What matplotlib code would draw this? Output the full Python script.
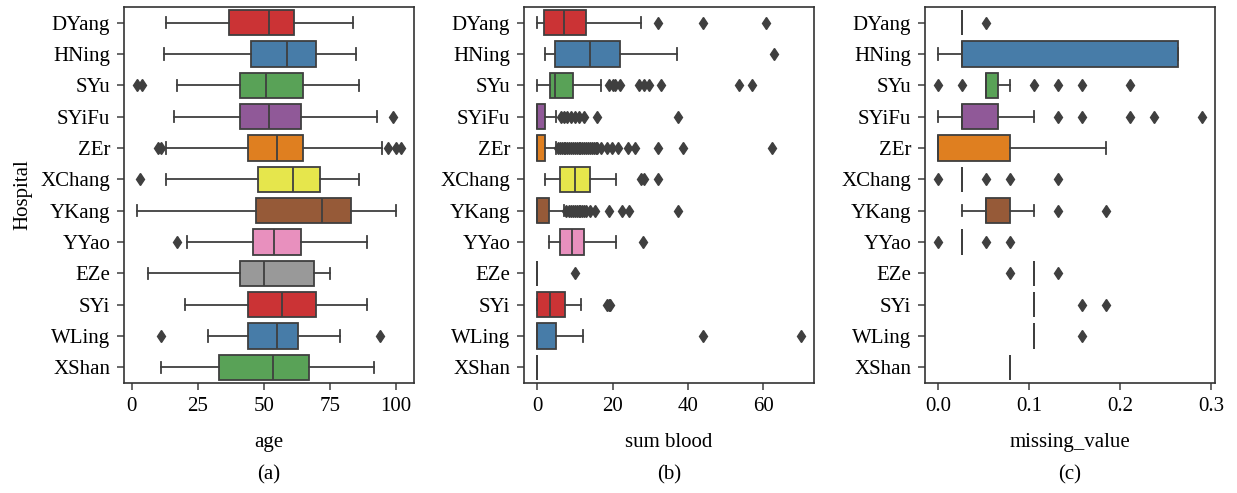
import colorsys
import matplotlib.pyplot as plt
import matplotlib.colors as mcolors

# hospitals, top to bottom
hospitals = ['DYang', 'HNing', 'SYu', 'SYiFu', 'ZEr', 'XChang',
             'YKang', 'YYao', 'EZe', 'SYi', 'WLing', 'XShan']

# (a) age
age_whislo = [13, 12, 17, 16, 13, 13, 2, 21, 6, 20, 29, 11]
age_q1 = [37, 45, 41, 41, 44, 48, 47, 46, 41, 44, 44, 33]
age_med = [52, 59, 51, 52, 55, 61, 72, 54, 50, 57, 55, 53.5]
age_q3 = [61.5, 70, 65, 64, 65, 71.5, 83, 64, 69, 70, 63, 67]
age_whishi = [84, 85, 86, 93, 95, 86, 100, 89, 75, 89, 79, 92]
age_fliers = [[], [], [2, 4], [99], [10, 11, 97, 100, 102], [3],
              [], [17], [], [], [11, 94], []]

# (b) sum blood
blood_whislo = [0, 2, 0, 0, 0, 2, 0, 3.2, 0, 0, 0, 0]
blood_q1 = [1.9, 4.6, 3.4, 0, 0, 6, 0, 6, 0, 0, 0, 0]
blood_med = [7, 14, 4.6, 0, 0, 10, 0, 9.2, 0, 3.4, 0, 0]
blood_q3 = [13, 22, 9.6, 2.1, 2.1, 14, 3.1, 12.5, 0, 7.3, 5.1, 0]
blood_whishi = [27.6, 37, 17, 5.1, 5, 21, 7.2, 21, 0, 11.6, 12.1, 0]
blood_fliers = [
    [32, 44, 60.8],
    [63],
    [19, 20, 20.7, 22, 27, 28.4, 29.8, 33, 53.5, 57],
    [6.3, 7, 8, 9, 10, 11, 12.3, 16, 37.5],
    [5.5, 6, 6.5, 7, 7.5, 8, 8.5, 9, 9.5, 10, 10.5, 11, 11.5, 12,
     12.5, 13, 13.5, 14, 14.5, 15, 15.5, 16, 17, 18.5, 19.8, 21.5,
     24, 26, 32, 38.7, 62.4],
    [27.5, 28.4, 32],
    [7.7, 8.5, 9, 9.5, 10, 10.5, 11, 11.5, 12, 12.5, 13, 14, 15.4,
     19.2, 22.5, 24.5, 37.5],
    [28],
    [10],
    [18.6, 19, 19.4],
    [44, 70],
    [],
]

# (c) missing_value
miss_whislo = [0.0263, 0.0, 0.0789, 0.0, 0.0, 0.0263, 0.0263, 0.0263,
               0.1053, 0.1053, 0.1053, 0.0789]
miss_q1 = [0.0263, 0.0263, 0.0526, 0.0263, 0.0, 0.0263, 0.0526, 0.0263,
           0.1053, 0.1053, 0.1053, 0.0789]
miss_med = [0.0263, 0.0263, 0.0526, 0.0263, 0.0, 0.0263, 0.0526, 0.0263,
            0.1053, 0.1053, 0.1053, 0.0789]
miss_q3 = [0.0263, 0.2632, 0.0658, 0.0658, 0.0789, 0.0263, 0.0789, 0.0263,
           0.1053, 0.1053, 0.1053, 0.0789]
miss_whishi = [0.0263, 0.2632, 0.0789, 0.1053, 0.1842, 0.0263, 0.1053,
               0.0263, 0.1053, 0.1053, 0.1053, 0.0789]
miss_fliers = [
    [0.0526],
    [],
    [0.0, 0.0263, 0.1053, 0.1316, 0.1579, 0.2105],
    [0.1316, 0.1579, 0.2105, 0.2368, 0.2895],
    [],
    [0.0, 0.0526, 0.0789, 0.1316],
    [0.1316, 0.1842],
    [0.0, 0.0526, 0.0789],
    [0.0789, 0.1316],
    [0.1579, 0.1842],
    [0.1579],
    [],
]
# the SYu box in (c) has no lower whisker
miss_whislo[2] = 0.0526

set1 = ['#e41a1c', '#377eb8', '#4daf4a', '#984ea3', '#ff7f00',
        '#ffff33', '#a65628', '#f781bf', '#999999']


def desat(c, prop=0.75):
    h, l, s = colorsys.rgb_to_hls(*mcolors.to_rgb(c))
    return colorsys.hls_to_rgb(h, l, s * prop)


colors = [desat(set1[i % len(set1)]) for i in range(len(hospitals))]
edge = '#3f3f3f'

plt.rcParams['font.family'] = ['Liberation Serif', 'DejaVu Serif']
plt.rcParams['font.size'] = 15

fig = plt.figure(figsize=(12.37, 4.93), dpi=100)
W, H = 1237, 493
lefts = [124, 524, 925]

panels = [
    (age_whislo, age_q1, age_med, age_q3, age_whishi, age_fliers,
     'age', [0, 25, 50, 75, 100], None, '(a)'),
    (blood_whislo, blood_q1, blood_med, blood_q3, blood_whishi, blood_fliers,
     'sum blood', [0, 20, 40, 60], None, '(b)'),
    (miss_whislo, miss_q1, miss_med, miss_q3, miss_whishi, miss_fliers,
     'missing_value', [0.0, 0.1, 0.2, 0.3], ['0.0', '0.1', '0.2', '0.3'], '(c)'),
]

for k, (wl, q1, med, q3, wh, fl, xlabel, ticks, ticklabels, tag) in enumerate(panels):
    ax = fig.add_axes([lefts[k] / W, (H - 383) / H, 290 / W, 376 / H])
    stats = []
    for i in range(len(hospitals)):
        stats.append(dict(whislo=wl[i], q1=q1[i], med=med[i], q3=q3[i],
                          whishi=wh[i], fliers=fl[i]))
    bp = ax.bxp(stats, positions=range(len(hospitals)), widths=0.8,
                capwidths=0.36, orientation='horizontal', patch_artist=True,
                boxprops=dict(edgecolor=edge, linewidth=1.3),
                whiskerprops=dict(color=edge, linewidth=1.3),
                capprops=dict(color=edge, linewidth=1.3),
                medianprops=dict(color=edge, linewidth=1.3),
                flierprops=dict(marker='d', markerfacecolor=edge,
                                markeredgecolor=edge, markersize=6.5,
                                linestyle='none'))
    for patch, c in zip(bp['boxes'], colors):
        patch.set_facecolor(c)
    ax.set_ylim(len(hospitals) - 0.5, -0.5)
    ax.set_yticks(range(len(hospitals)))
    ax.set_yticklabels(hospitals)
    ax.set_xticks(ticks)
    if ticklabels:
        ax.set_xticklabels(ticklabels)
    ax.margins(x=0.05)
    ax.set_xlabel(xlabel, labelpad=12)
    ax.tick_params(length=5, width=1.1, color=edge, pad=5)
    for sp in ax.spines.values():
        sp.set_color('#333333')
        sp.set_linewidth(1.2)
    if k == 0:
        ax.set_ylabel('Hospital', labelpad=6)
    fig.text((lefts[k] + 145) / W, 1 - 475 / H, tag, ha='center', va='center')

plt.savefig('out.png', dpi=100)
